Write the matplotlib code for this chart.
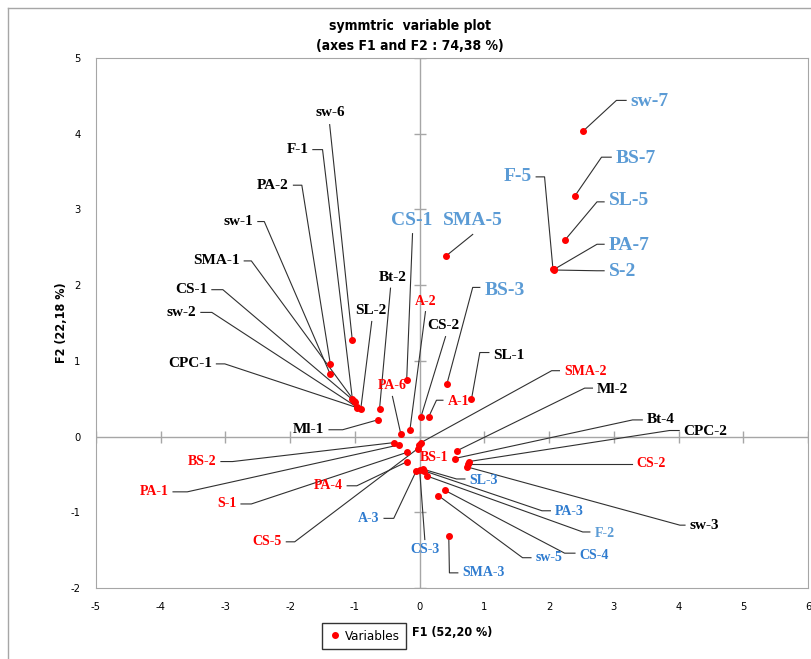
import matplotlib.pyplot as plt
from matplotlib.lines import Line2D

plt.rcParams["axes.unicode_minus"] = False

# ---- data ----
names = ["sw-7", "BS-7", "SL-5", "PA-7", "S-2", "F-5", "SMA-5", "CS-1", "BS-3",
         "SL-1", "A-1", "CS-2", "A-2", "PA-6", "Bt-2", "SL-2", "Ml-1", "sw-6",
         "F-1", "PA-2", "sw-1", "SMA-1", "CS-1", "sw-2", "CPC-1",
         "SMA-2", "BS-1", "CS-5", "BS-2", "PA-1", "S-1", "PA-4", "A-3", "CS-3",
         "SL-3", "PA-3", "F-2", "Ml-2", "Bt-4", "CPC-2", "CS-2", "sw-3",
         "CS-4", "sw-5", "SMA-3"]
f1 = [2.52, 2.40, 2.24, 2.08, 2.07, 2.06, 0.40, -0.20, 0.42,
      0.80, 0.14, 0.02, -0.15, -0.29, -0.62, -0.91, -0.65, -1.04,
      -1.04, -1.38, -1.38, -1.01, -1.00, -0.97, -0.96,
      0.02, -0.01, -0.03, -0.40, -0.32, -0.20, -0.19, -0.05, 0.00,
      0.05, 0.06, 0.11, 0.57, 0.54, 0.76, 0.74, 0.73,
      0.39, 0.29, 0.45]
f2 = [4.03, 3.18, 2.59, 2.21, 2.20, 2.21, 2.38, 0.75, 0.69,
      0.49, 0.26, 0.26, 0.09, 0.03, 0.36, 0.36, 0.22, 1.27,
      0.50, 0.96, 0.82, 0.47, 0.46, 0.39, 0.38,
      -0.08, -0.11, -0.16, -0.08, -0.11, -0.21, -0.33, -0.45, -0.44,
      -0.43, -0.45, -0.52, -0.19, -0.29, -0.33, -0.36, -0.40,
      -0.71, -0.78, -1.31]
groups = (["big"] * 9 +
          ["black", "red", "black", "red", "red", "black", "black", "black", "black",
           "black", "black", "black", "black", "black", "black", "black"] +
          ["red", "red", "red", "red", "red", "red", "red", "blue", "blue",
           "blue", "blue", "light", "black", "black", "black", "red", "black",
           "blue", "blue", "blue"])

# ---- label layout: text pos, leader corner, side ----
layout = [
    (3.26, 4.43, 3.04, 4.44, "R"), (3.03, 3.67, 2.81, 3.69, "R"),
    (2.92, 3.12, 2.74, 3.10, "R"), (2.92, 2.52, 2.74, 2.54, "R"),
    (2.92, 2.18, 2.74, 2.19, "R"), (1.73, 3.43, 1.93, 3.43, "L"),
    (0.82, 2.85, 0.82, 2.67, "U"), (-0.12, 2.85, -0.11, 2.68, "U"),
    (1.00, 1.93, 0.82, 1.97, "R"),
    (1.14, 1.07, 0.93, 1.11, "R"), (0.43, 0.46, 0.26, 0.48, "R"),
    (0.37, 1.47, 0.40, 1.32, "U"), (0.09, 1.78, 0.09, 1.65, "U"),
    (-0.43, 0.67, -0.42, 0.53, "U"), (-0.42, 2.10, -0.45, 1.96, "U"),
    (-0.76, 1.66, -0.74, 1.52, "U"), (-1.47, 0.09, -1.19, 0.09, "L"),
    (-1.38, 4.28, -1.39, 4.12, "U"),
    (-1.72, 3.79, -1.50, 3.79, "L"), (-2.02, 3.32, -1.82, 3.32, "L"),
    (-2.57, 2.84, -2.40, 2.84, "L"), (-2.78, 2.32, -2.60, 2.32, "L"),
    (-3.28, 1.94, -3.04, 1.94, "L"), (-3.45, 1.64, -3.21, 1.64, "L"),
    (-3.21, 0.96, -3.01, 0.96, "L"),
    (2.23, 0.86, 2.04, 0.87, "R"), (0.0, -0.28, 0.0, -0.28, "N"),
    (-2.13, -1.39, -1.93, -1.39, "L"), (-3.14, -0.33, -2.89, -0.33, "L"),
    (-3.88, -0.73, -3.59, -0.73, "L"), (-2.83, -0.89, -2.60, -0.89, "L"),
    (-1.19, -0.65, -0.97, -0.65, "L"), (-0.62, -1.08, -0.40, -1.08, "L"),
    (0.08, -1.49, 0.08, -1.36, "D"),
    (0.77, -0.58, 0.57, -0.56, "R"), (2.09, -0.99, 1.89, -0.98, "R"),
    (2.70, -1.28, 2.52, -1.26, "R"), (2.74, 0.62, 2.55, 0.64, "R"),
    (3.51, 0.22, 3.29, 0.22, "R"), (4.08, 0.07, 3.86, 0.08, "R"),
    (3.35, -0.36, 3.12, -0.36, "R"), (4.17, -1.18, 4.02, -1.17, "R"),
    (2.47, -1.57, 2.24, -1.54, "R"), (1.79, -1.60, 1.59, -1.60, "R"),
    (0.66, -1.80, 0.46, -1.80, "R"),
]

styles = {
    "big":   dict(color="#5B9BD5", fontsize=14),
    "black": dict(color="black", fontsize=11),
    "red":   dict(color="#FF0000", fontsize=10),
    "blue":  dict(color="#2E7BCF", fontsize=10),
    "light": dict(color="#5B9BD5", fontsize=10),
}
serif = ["Liberation Serif", "DejaVu Serif"]
sans = ["DejaVu Sans"]

fig = plt.figure(figsize=(8.12, 6.59), dpi=100)
ax = fig.add_axes([96 / 812, 1 - 588 / 659, 712 / 812, 530 / 659])
ax.set_xlim(-5, 6)
ax.set_ylim(-2, 5)
ax.set_xticks(range(-5, 7))
ax.set_yticks(range(-2, 6))
for s in ax.spines.values():
    s.set_color("#A6A6A6")
ax.tick_params(length=0, labelsize=8)
ax.tick_params(axis="x", pad=10)
ax.tick_params(axis="y", pad=11)
for lab in ax.get_xticklabels() + ax.get_yticklabels():
    lab.set_family(sans)
    lab.set_fontstretch("condensed")

# zero axes with little cross ticks
ax.axhline(0, color="#A6A6A6", lw=1, zorder=1)
ax.axvline(0, color="#A6A6A6", lw=1, zorder=1)
xt = list(range(-5, 7))
yt = list(range(-2, 6))
ax.plot(xt, [0] * len(xt), ls="none", marker="|", ms=8, color="#A6A6A6", mew=1, zorder=1)
ax.plot([0] * len(yt), yt, ls="none", marker="_", ms=8, color="#A6A6A6", mew=1, zorder=1)

gap = 0.07
for x, y, name, g, (tx, ty, cx, cy, mode) in zip(f1, f2, names, groups, layout):
    st = styles[g]
    if mode == "R":
        ax.plot([x, cx, tx - gap], [y, cy, cy], color="#303030", lw=0.8, zorder=2)
        ha = "left"
    elif mode == "L":
        ax.plot([x, cx, tx + gap], [y, cy, cy], color="#303030", lw=0.8, zorder=2)
        ha = "right"
    elif mode in ("U", "D"):
        ax.plot([x, cx], [y, cy], color="#303030", lw=0.8, zorder=2)
        ha = "center"
    else:
        ha = "left"
    ax.text(tx, ty, name, ha=ha, va="center", fontweight="bold",
            family=serif, zorder=4, **st)

ax.plot(f1, f2, ls="none", marker="o", ms=4, color="#FF0000", zorder=3)

title_kw = dict(ha="center", va="center", fontsize=10, fontweight="bold",
                family=sans, fontstretch="condensed")
fig.text(410 / 812, 1 - 26 / 659, "symmtric  variable plot", **title_kw)
fig.text(410 / 812, 1 - 46 / 659, "(axes F1 and F2 : 74,38 %)", **title_kw)
fig.text(452 / 812, 1 - 633 / 659, "F1 (52,20 %)", ha="center", va="center",
         fontsize=9, fontweight="bold", family=sans, fontstretch="condensed")
fig.text(62 / 812, 1 - 323 / 659, "F2 (22,18 %)", ha="center", va="center",
         rotation=90, fontsize=9, fontweight="bold", family=sans, fontstretch="condensed")

handle = Line2D([], [], ls="none", marker="o", ms=4, color="#FF0000")
leg = fig.legend([handle], ["Variables"], loc="center",
                 bbox_to_anchor=(364 / 812, 1 - 636 / 659), frameon=True,
                 fancybox=False, edgecolor="black", handletextpad=0.2,
                 handlelength=1.0, borderpad=0.5,
                 prop={"family": sans, "size": 9.5, "stretch": "condensed"})
leg.get_frame().set_linewidth(1.0)

# chart-area border (top and left edges visible in the reference)
fig.add_artist(Line2D([8 / 812, 1], [1 - 8 / 659] * 2, color="#A6A6A6", lw=1))
fig.add_artist(Line2D([8 / 812] * 2, [0, 1 - 8 / 659], color="#A6A6A6", lw=1))

plt.savefig("out.png", dpi=100)
